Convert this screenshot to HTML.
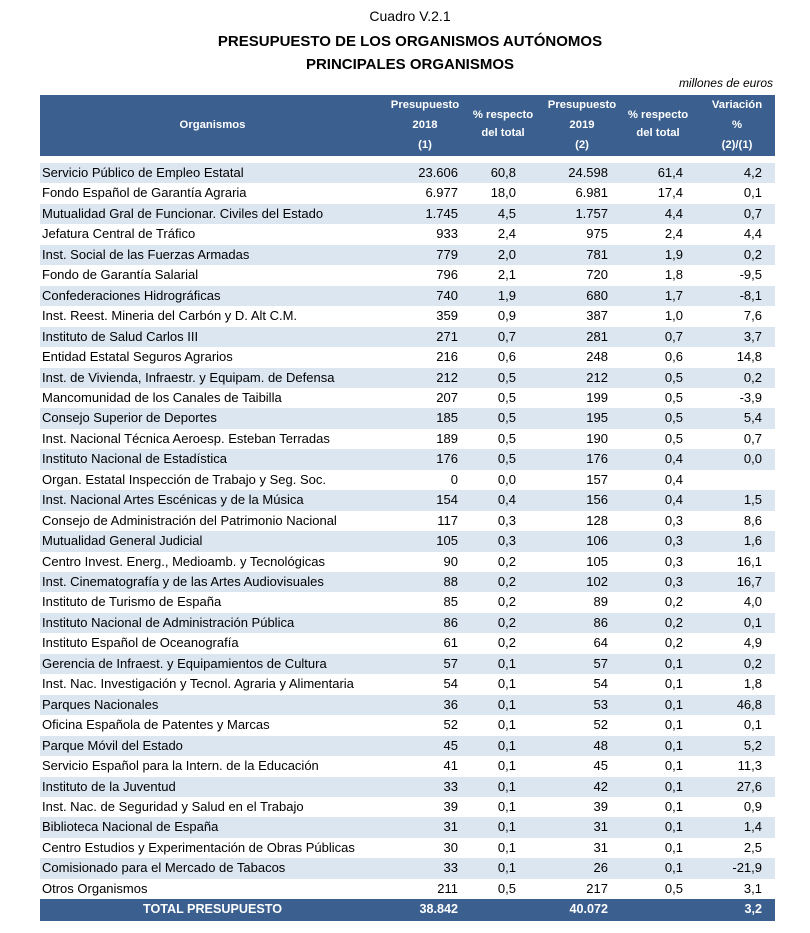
<!DOCTYPE html>
<html><head><meta charset="utf-8"><style>
body{margin:0;width:810px;height:933px;background:#fff;position:relative;font-family:"Liberation Sans",sans-serif;color:#000;overflow:hidden}
.a{position:absolute;white-space:nowrap}
.t{left:0;width:820px;text-align:center}
.hd{background:#3b5f8e;position:absolute;left:40px;width:735px}
.h{position:absolute;color:#fff;font-weight:bold;font-size:11.3px;text-align:center;width:90px;line-height:20px}
.band{position:absolute;left:40px;width:735px;height:20.45px;background:#dce6f1}
.c{position:absolute;font-size:13px;line-height:20.45px;text-align:right}
</style></head><body>
<div class="a t" style="top:8px;font-size:14px">Cuadro V.2.1</div>
<div class="a t" style="top:33px;font-size:15px;font-weight:bold">PRESUPUESTO DE LOS ORGANISMOS AUTÓNOMOS</div>
<div class="a t" style="top:56px;font-size:15px;font-weight:bold">PRINCIPALES ORGANISMOS</div>
<div class="a" style="right:37px;top:76px;font-size:12px;font-style:italic">millones de euros</div>
<div class="hd" style="top:95px;height:61px"></div>
<div class="h" style="left:140px;width:145px;top:115px">Organismos</div>
<div class="h" style="left:380px;top:95px">Presupuesto<br>2018<br>(1)</div>
<div class="h" style="left:458px;top:106px;line-height:18px">% respecto<br>del total</div>
<div class="h" style="left:537px;top:95px">Presupuesto<br>2019<br>(2)</div>
<div class="h" style="left:613px;top:106px;line-height:18px">% respecto<br>del total</div>
<div class="h" style="left:692px;top:95px">Variación<br>%<br>(2)/(1)</div>
<div id="rows"></div>
<div class="hd" style="top:899px;height:22px"></div>
<div class="a" style="left:40px;width:345px;text-align:center;top:902px;color:#fff;font-weight:bold;font-size:12.6px">TOTAL PRESUPUESTO</div>
<div class="a" style="right:352px;top:902px;color:#fff;font-weight:bold;font-size:12.6px">38.842</div>
<div class="a" style="right:202px;top:902px;color:#fff;font-weight:bold;font-size:12.6px">40.072</div>
<div class="a" style="right:48px;top:902px;color:#fff;font-weight:bold;font-size:12.6px">3,2</div>
<script>
const names=["Servicio Público de Empleo Estatal","Fondo Español de Garantía Agraria","Mutualidad Gral  de Funcionar. Civiles del Estado","Jefatura Central de Tráfico","Inst. Social de las Fuerzas Armadas","Fondo de Garantía Salarial","Confederaciones Hidrográficas","Inst. Reest. Mineria del Carbón y D. Alt C.M.","Instituto de Salud Carlos III","Entidad Estatal Seguros Agrarios","Inst. de Vivienda, Infraestr. y Equipam. de Defensa","Mancomunidad de los Canales de Taibilla","Consejo Superior de Deportes","Inst. Nacional Técnica Aeroesp. Esteban Terradas","Instituto Nacional de Estadística","Organ. Estatal Inspección de Trabajo y Seg. Soc.","Inst. Nacional Artes Escénicas y de la Música","Consejo de Administración del Patrimonio Nacional","Mutualidad General  Judicial","Centro Invest. Energ., Medioamb. y Tecnológicas","Inst. Cinematografía y de las Artes  Audiovisuales","Instituto de Turismo de España","Instituto Nacional de Administración Pública","Instituto Español de Oceanografía","Gerencia de Infraest. y Equipamientos de Cultura","Inst. Nac. Investigación y Tecnol. Agraria y Alimentaria","Parques Nacionales","Oficina Española de Patentes y Marcas","Parque Móvil del Estado","Servicio Español para la Intern. de la Educación","Instituto de la Juventud","Inst. Nac. de Seguridad y Salud en el Trabajo","Biblioteca Nacional de España","Centro Estudios y Experimentación de Obras Públicas","Comisionado para el Mercado de Tabacos","Otros Organismos"];
const p2018=["23.606","6.977","1.745","933","779","796","740","359","271","216","212","207","185","189","176","0","154","117","105","90","88","85","86","61","57","54","36","52","45","41","33","39","31","30","33","211"];
const pct2018=["60,8","18,0","4,5","2,4","2,0","2,1","1,9","0,9","0,7","0,6","0,5","0,5","0,5","0,5","0,5","0,0","0,4","0,3","0,3","0,2","0,2","0,2","0,2","0,2","0,1","0,1","0,1","0,1","0,1","0,1","0,1","0,1","0,1","0,1","0,1","0,5"];
const p2019=["24.598","6.981","1.757","975","781","720","680","387","281","248","212","199","195","190","176","157","156","128","106","105","102","89","86","64","57","54","53","52","48","45","42","39","31","31","26","217"];
const pct2019=["61,4","17,4","4,4","2,4","1,9","1,8","1,7","1,0","0,7","0,6","0,5","0,5","0,5","0,5","0,4","0,4","0,4","0,3","0,3","0,3","0,3","0,2","0,2","0,2","0,1","0,1","0,1","0,1","0,1","0,1","0,1","0,1","0,1","0,1","0,1","0,5"];
const variacion=["4,2","0,1","0,7","4,4","0,2","-9,5","-8,1","7,6","3,7","14,8","0,2","-3,9","5,4","0,7","0,0","","1,5","8,6","1,6","16,1","16,7","4,0","0,1","4,9","0,2","1,8","46,8","0,1","5,2","11,3","27,6","0,9","1,4","2,5","-21,9","3,1"];
const R=document.getElementById('rows');
const top0=163,rh=20.45;
const cols=[[p2018,352,'value-2018'],[pct2018,294,'pct-2018'],[p2019,202,'value-2019'],[pct2019,127,'pct-2019'],[variacion,48,'variacion']];
names.forEach((n,i)=>{
 const y=top0+i*rh;
 if(i%2===0){const b=document.createElement('div');b.className='band';b.style.top=y+'px';
 
 
 R.appendChild(b);}
 const l=document.createElement('div');l.className='c';l.style.left='42px';l.style.textAlign='left';l.style.top=y+'px';l.textContent=n;
 
 
 R.appendChild(l);
 cols.forEach(c=>{const d=document.createElement('div');d.className='c';d.style.right=c[1]+'px';d.style.top=y+'px';d.textContent=c[0][i];
 
 
 R.appendChild(d);});
});
</script>
</body></html>
